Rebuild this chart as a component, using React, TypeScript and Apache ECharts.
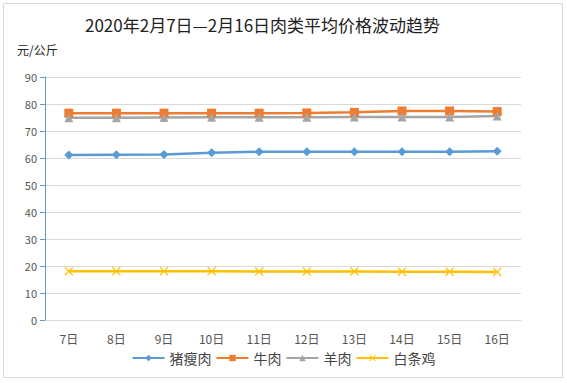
import React, { useEffect, useRef } from "react";
import * as echarts from "echarts";

const categories = ["7日", "8日", "9日", "10日", "11日", "12日", "13日", "14日", "15日", "16日"];
const pork = [61.1, 61.2, 61.3, 61.9, 62.3, 62.3, 62.3, 62.3, 62.3, 62.5];
const beef = [76.6, 76.6, 76.6, 76.6, 76.6, 76.7, 76.9, 77.4, 77.4, 77.2];
const mutton = [74.9, 74.9, 75.0, 75.1, 75.1, 75.1, 75.2, 75.2, 75.2, 75.6];
const chicken = [18.1, 18.1, 18.1, 18.1, 18.0, 18.0, 18.0, 17.9, 17.9, 17.8];
const seriesNames = ["猪瘦肉", "牛肉", "羊肉", "白条鸡"];
const unitLabel = "元/公斤";

const CROSS = "path://M0,1 L1,0 L5,4 L9,0 L10,1 L6,5 L10,9 L9,10 L5,6 L1,10 L0,9 L4,5 Z";
const FONT = "'Noto Sans CJK SC', sans-serif";

export default function App() {
  const ref = useRef<HTMLDivElement>(null);
  useEffect(() => {
    const chart = echarts.init(ref.current!, null, { renderer: "svg" });
    const mk = (name: string, data: number[], color: string, symbol: string, size: number) => ({
      name,
      type: "line",
      data,
      symbol,
      symbolSize: size,
      lineStyle: { color, width: 2.5 },
      itemStyle: { color },
      emphasis: { disabled: true },
    });
    chart.setOption({
      animation: false,
      backgroundColor: "#ffffff",
      textStyle: { fontFamily: FONT },
      title: {
        text: "2020年2月7日—2月16日肉类平均价格波动趋势",
        left: 80,
        top: 11,
        textStyle: { fontSize: 17, fontWeight: "normal", color: "#222", fontFamily: FONT },
      },
      legend: {
        bottom: 13,
        left: "center",
        itemGap: 4,
        itemWidth: 32,
        itemHeight: 8,
        textStyle: { fontSize: 14, color: "#444", fontFamily: FONT },
        data: seriesNames,
      },
      grid: { left: 45, right: 46, top: 77, bottom: 63 },
      xAxis: {
        type: "category",
        data: categories,
        boundaryGap: true,
        axisLine: { lineStyle: { color: "#d9d9d9" } },
        axisTick: { inside: true, length: 6, lineStyle: { color: "#d9d9d9" } },
        axisLabel: { color: "#555", fontSize: 12, margin: 12 },
      },
      yAxis: {
        type: "value",
        min: 0,
        max: 90,
        interval: 10,
        axisLine: { show: true, lineStyle: { color: "#5b9bd5" } },
        axisTick: { show: true, length: 5, lineStyle: { color: "#5b9bd5" } },
        axisLabel: { color: "#555", fontSize: 11, margin: 8 },
        splitLine: { lineStyle: { color: "#d9d9d9" } },
      },
      series: [
        mk("猪瘦肉", pork, "#5b9bd5", "diamond", 9),
        mk("牛肉", beef, "#ed7d31", "rect", 9),
        mk("羊肉", mutton, "#a5a5a5", "triangle", 9),
        mk("白条鸡", chicken, "#ffc000", CROSS, 9),
      ],
      graphic: [
        {
          type: "rect",
          shape: { x: 3.5, y: 3.5, width: 559, height: 374 },
          style: { fill: "none", stroke: "#d9d9d9", lineWidth: 1 },
          silent: true,
        },
        {
          type: "text",
          left: 17,
          top: 43,
          style: { text: unitLabel, fontSize: 12, fill: "#222", fontFamily: FONT },
          silent: true,
        },
      ],
    });
    return () => chart.dispose();
  }, []);
  return <div ref={ref} style={{ width: 567, height: 383, position: "absolute", left: 0, top: 0 }} />;
}
